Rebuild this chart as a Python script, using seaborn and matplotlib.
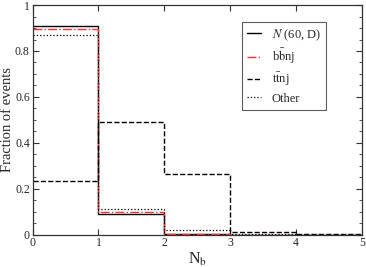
import numpy as np
import pandas as pd
import matplotlib
matplotlib.use("Agg")
import matplotlib.pyplot as plt
import seaborn as sns
from matplotlib.ticker import MultipleLocator

# Données (fraction d'événements par bin de N_b)
nb_bins = [0, 1, 2, 3, 4]
frac_signal = [0.907, 0.091, 0.002, 0.0, 0.0]
frac_bbnj = [0.896, 0.101, 0.003, 0.0, 0.0]
frac_ttnj = [0.236, 0.491, 0.265, 0.010, 0.002]
frac_other = [0.868, 0.110, 0.020, 0.002, 0.0]

series_labels = [r"$N$ (60, D)", r"b$\bar{\mathrm{b}}$nj", r"t$\bar{\mathrm{t}}$nj", "Other"]

sns.set_style("ticks")
plt.rcParams['font.family'] = ['Liberation Serif', 'DejaVu Serif']
plt.rcParams['mathtext.fontset'] = 'stix'

fig = plt.figure(figsize=(3.66, 2.67), dpi=100)
ax = fig.add_axes([0.089, 0.121, 0.900, 0.860])

styles = [
    dict(color='black', linestyle='-', linewidth=1.0),
    dict(color='#ff3030', linestyle='-.', linewidth=1.0),
    dict(color='black', linestyle='--', linewidth=1.0),
    dict(color='black', linestyle=':', linewidth=0.9),
]
all_values = [frac_signal, frac_bbnj, frac_ttnj, frac_other]

centers = [b + 0.5 for b in nb_bins]
for vals, lab, st in zip(all_values, series_labels, styles):
    df = pd.DataFrame({'nb': centers, 'w': vals})
    sns.histplot(data=df, x='nb', weights='w', bins=5, binrange=(0, 5), element='step',
                 fill=False, ax=ax, label=lab, **st)

ax.set_xlim(0, 5)
ax.set_ylim(0, 1)
ax.xaxis.set_major_locator(MultipleLocator(1))
ax.set_yticks(np.arange(0, 1.01, 0.2))
ax.set_yticklabels(['0', '0.2', '0.4', '0.6', '0.8', '1'])
ax.yaxis.set_minor_locator(MultipleLocator(0.05))
ax.tick_params(which='both', direction='in', top=True, right=True, labelsize=8.5, pad=2,
               color='#333333')
ax.tick_params(which='major', length=4)
ax.tick_params(which='minor', length=2)
for s in ax.spines.values():
    s.set_color('#333333')
    s.set_linewidth(0.9)

ax.set_xlabel(r"N$_\mathrm{b}$", fontsize=11.5, labelpad=1)
ax.set_ylabel("Fraction of events", fontsize=10.5)
ax.yaxis.set_label_coords(-0.057, 0.5)

leg = ax.legend(loc='upper right', bbox_to_anchor=(0.891, 0.926), borderaxespad=0,
                fontsize=9, frameon=True, fancybox=False, edgecolor='#333333',
                handlelength=1.1, handletextpad=0.9, borderpad=0.4, labelspacing=0.36)
leg.get_frame().set_linewidth(0.8)

fig.savefig("out.png", dpi=100)
